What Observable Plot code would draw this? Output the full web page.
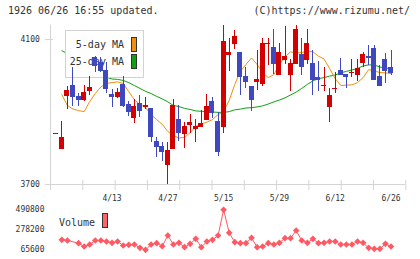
<!DOCTYPE html>
<html><head><meta charset="utf-8">
<script src="https://cdn.jsdelivr.net/npm/d3@7"></script>
<script src="https://cdn.jsdelivr.net/npm/@observablehq/plot@0.6"></script>
<style>
body{margin:0;background:#fff;}
#wrap{position:relative;width:420px;height:259px;overflow:hidden;background:#fff;font-family:"DejaVu Sans Mono",monospace;color:#333;}
.abs{position:absolute;white-space:pre;}
.t10{font-size:10px;line-height:10px;}
</style></head><body>
<div id="wrap">
  <div class="abs t10" style="left:8px;top:6px;">1926 06/26 16:55 updated.</div>
  <div class="abs t10" style="right:10px;top:6px;text-align:right;">(C)https://www.rizumu.net/</div>
  <div class="abs" id="base" style="left:0;top:0;"></div>
  <div class="abs" style="left:65px;top:30px;width:77px;height:46px;border:1px solid #d2d2d2;background:#fff;"></div>
  <div class="abs t10" style="left:60px;width:64px;top:40px;text-align:right;">5-day MA</div>
  <div class="abs t10" style="left:60px;width:64px;top:57px;text-align:right;">25-day MA</div>
  <div class="abs" style="left:131px;top:37px;width:4px;height:13px;border:1px solid #333;background:#f0900f;"></div>
  <div class="abs" style="left:131px;top:54px;width:4px;height:13px;border:1px solid #333;background:#10a010;"></div>
  <div class="abs" id="candles" style="left:0;top:0;"></div>
  <div class="abs" id="vol" style="left:0;top:200px;"></div>
  <div class="abs t10" style="left:59px;top:217.5px;">Volume</div>
  <div class="abs" style="left:101.7px;top:213.3px;width:4px;height:12.4px;border:1px solid #333;background:#ff6464;"></div>
</div>
<script>
const dates = ["3/30","3/31","4/1","4/2","4/3","4/6","4/7","4/8","4/9","4/10","4/13","4/14","4/15","4/16","4/17","4/20","4/21","4/22","4/23","4/24","4/27","4/28","4/30","5/1","5/7","5/8","5/11","5/12","5/13","5/14","5/15","5/18","5/19","5/20","5/21","5/22","5/25","5/26","5/27","5/28","5/29","6/1","6/2","6/3","6/4","6/5","6/8","6/9","6/10","6/11","6/12","6/15","6/16","6/17","6/18","6/19","6/22","6/23","6/24","6/25","6/26"];
const tickLabels = ["4/13","4/27","5/15","5/29","6/12","6/26"];
const priceTicks = [3700, 4100];
const volTicks = [65600, 278200, 490800];

const opens = [3841, 3797,3944,3974,3942,3933,3957,4050,4036,4015,3948, 3939,3976,3921,3882,3923,3913,3910,3819,3805,3753, 3797,3879,3838,3863,3852,3858,3877,3929,3874,3858, 4056,4086,4065,3999,3970,3982,3976,4086,4079,4002, 4043,4002,4031,4059,4043,4034,3996,3972,3913,3964, 4015,4003,4007,4002,4033,4054,4075,3999,4045,4024];
const highs = [3841, 3875,3971,4022,3951,3974,3997,4054,4049,4036,3962, 3965,3999,3930,3935,3946,3941,3910,3829,3815,3817, 3935,3918,3870,3893,3879,3904,3947,3941,3898,4139, 4104,4125,4065,4024,3970,4070,4104,4103,4128,4089, 4136,4045,4139,4103,4128,4070,4039,4024,3965,4010, 4048,4003,4045,4045,4065,4084,4084,4028,4061,4070];
const lows = [3841, 3797,3907,3916,3914,3928,3945,4008,4010,3950,3912, 3937,3912,3888,3867,3886,3907,3815,3774,3763,3700, 3797,3819,3799,3841,3817,3858,3877,3883,3778,3840, 4013,4072,3946,3964,3901,3959,3971,4027,4003,4002, 4031,3957,4031,4002,4031,3946,3957,3957,3872,3951, 4002,3964,3996,3983,4022,4028,3988,3971,3978,4002];
const closes = [3841, 3830,3960,3939,3933,3954,3967,4026,4013,3962,3939, 3955,3916,3898,3916,3902,3919,3829,3803,3789,3794, 3918,3840,3861,3870,3861,3869,3915,3897,3789,4095, 4065,4108,3996,3982,3932,3990,4089,4089,4031,4064, 4054,4034,4128,4022,4089,3987,3987,3973,3946,3965, 4002,3996,4008,4020,4059,4047,3988,3971,4013,4006];
const ma5 = [null, 3948,3918,3908,3904,3901,3929,3951,3969,3979,3981, 3983,3979,3956,3934,3921,3912,3893,3879,3866,3846, 3835,3828,3830,3843,3860,3867,3872,3879,3893,3901, 3932,3976,4012,4031,4049,4031,4008,3995,4003,4031, 4053,4066,4063,4064,4068,4066,4054,4046,4020,3992, 3973,3974,3975,3981,3995,4017,4013,4009,4008,4006];
const ma25 = [null, 4069,4061,4052,4044,4034,4022,4010,4003,3996,3991, 3990,3987,3981,3973,3965,3957,3951,3943,3936,3928, 3918,3915,3910,3907,3903,3902,3901,3900,3899,3899, 3901,3906,3908,3911,3912,3914,3917,3922,3928,3933, 3939,3947,3955,3965,3976,3986,3992,3995,3999,4002, 4008,4012,4016,4020,4027,4030,4030,4024,4021,4020];
const volume = [null, 171900,164500,null,135800,100700,121900,164500,164500,153800,140000, 153800,111300,118800,121900,86900,65600,121900,135800,103900,217600, 121900,140000,93200,129400,182500,93200,153800,171900,217600,490800, 246300,146400,135800,135800,193200,93200,100700,135800,121900,140000, 188900,188900,270800,164500,140000,182500,135800,140000,153800,153800, 121900,121900,121900,153800,140000,86900,76200,76200,129400,100700];

const RED = "#d40000", BLUE = "#4048c0", ORANGE = "#f0900f", GREEN = "#10a010", VOL = "#ff5a64", GRID = "#d4d4d4";
const N = dates.length;
const ks = d3.range(N);
const xDom = [-1.03, 62.65];
const gridTicks = d3.range(12).map(j => xDom[0] + j * (xDom[1] - xDom[0]) / 11);
const labelPos = tickLabels.map(t => dates.indexOf(t));
const fmt = d3.format("d");
const styleBase = {background: "transparent", fontFamily: "'DejaVu Sans Mono', monospace", fontSize: "8px", color: "#333", overflow: "visible"};
const mainFrame = {width: 420, height: 205, marginLeft: 50, marginRight: 14.7, marginTop: 24.5, marginBottom: 21,
  x: {domain: xDom, axis: null}, y: {domain: [3700, 4140], axis: null}, style: styleBase};

const base = Plot.plot({
  ...mainFrame,
  marks: [
    Plot.ruleX([xDom[0]], {stroke: GRID}),
    Plot.ruleY([3700], {stroke: GRID}),
    Plot.axisX({ticks: gridTicks, tickSize: 10, dy: -4, tickFormat: () => "", stroke: GRID, label: null}),
    Plot.axisX({ticks: labelPos, tickFormat: k => dates[k], tickSize: 0, tickPadding: 11, label: null}),
    Plot.axisY({ticks: priceTicks, tickSize: 5, tickPadding: 5.7, tickFormat: fmt, stroke: GRID, label: null}),
    Plot.axisY({ticks: priceTicks, tickSize: 8, dx: 3, tickFormat: () => "", stroke: GRID, label: null}),
    Plot.line(ks, {x: k => k, y: k => ma25[k], stroke: GREEN, strokeWidth: 1}),
    Plot.line(ks, {x: k => k, y: k => ma5[k], stroke: ORANGE, strokeWidth: 1})
  ]
});
document.getElementById("base").appendChild(base);

const candles = ks.map(k => ({k, o: opens[k], h: highs[k], l: lows[k], c: closes[k]}));
const up = candles.filter(d => d.c >= d.o);
const down = candles.filter(d => d.c < d.o);
const hw = 0.45;
const cplot = Plot.plot({
  ...mainFrame,
  marks: [
    Plot.ruleX(up, {x: "k", y1: "l", y2: "h", stroke: RED, shapeRendering: "crispEdges"}),
    Plot.ruleX(down, {x: "k", y1: "l", y2: "h", stroke: BLUE, shapeRendering: "crispEdges"}),
    Plot.rect(up, {x1: d => d.k - hw, x2: d => d.k + hw, y1: "o", y2: "c", fill: RED, shapeRendering: "crispEdges"}),
    Plot.rect(down, {x1: d => d.k - hw, x2: d => d.k + hw, y1: "o", y2: "c", fill: BLUE, shapeRendering: "crispEdges"}),
    Plot.ruleY(up.filter(d => Math.abs(d.c - d.o) < 4), {y: "c", x1: d => d.k - hw, x2: d => d.k + hw, stroke: RED, shapeRendering: "crispEdges"})
  ]
});
document.getElementById("candles").appendChild(cplot);

const vk = ks.filter(k => volume[k] != null);
const vplot = Plot.plot({
  width: 420, height: 59, marginLeft: 50, marginRight: 14.7, marginTop: 9.3, marginBottom: 9.7,
  x: {domain: xDom, axis: null}, y: {domain: [65600, 490800], axis: null}, style: styleBase,
  marks: [
    Plot.axisY({ticks: volTicks, tickSize: 0, tickPadding: 6, tickFormat: fmt, label: null}),
    Plot.line(vk, {x: k => k, y: k => volume[k], stroke: VOL, strokeWidth: 1}),
    Plot.dot(vk, {x: k => k, y: k => volume[k], symbol: "diamond2", r: 3, fill: VOL, stroke: "none"})
  ]
});
document.getElementById("vol").appendChild(vplot);
</script>
</body></html>
